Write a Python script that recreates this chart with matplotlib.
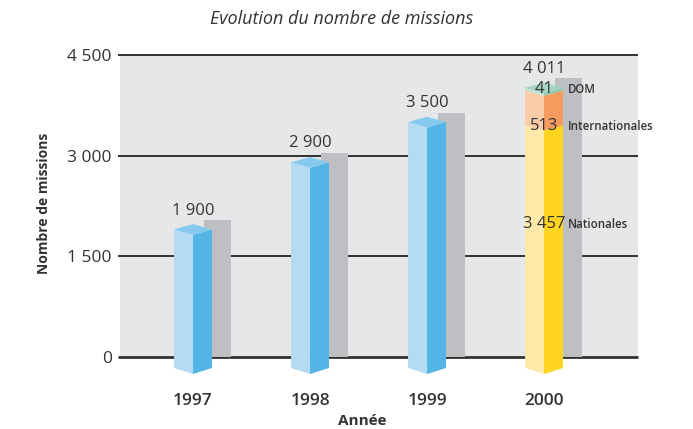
import matplotlib
matplotlib.use("Agg")
import matplotlib.pyplot as plt
from matplotlib.patches import Polygon, Rectangle

plt.rcParams['font.family'] = ['Open Sans', 'DejaVu Sans']

# ---- data ----
years = ["1997", "1998", "1999", "2000"]
totals = [1900, 2900, 3500, 4011]
total_labels = ["1 900", "2 900", "3 500", "4 011"]
seg_names_2000 = ["Nationales", "Internationales", "DOM"]
seg_values_2000 = [3457, 513, 41]
seg_labels_2000 = ["3 457", "513", "41"]
yticks = [0, 1500, 3000, 4500]
ytick_labels = ["0", "1 500", "3 000", "4 500"]

# ---- style ----
W, H = 693, 429
fig = plt.figure(figsize=(W / 100, H / 100), dpi=100)
ax = fig.add_axes([120 / W, 1 - 357 / H, (638 - 120) / W, (357 - 55) / H])
ax.set_facecolor("#e6e7e9")
ax.set_ylim(0, 4500)
ax.set_xlim(-0.624, 3.803)
for s in ax.spines.values():
    s.set_visible(False)

blue = ("#b5dbf3", "#52b5e6", "#86c9ef")
seg_cols = [("#ffe9a8", "#ffd520"), ("#fccba8", "#f69a5e"), ("#c3e4d5", "#8ecbb1")]
top_2000 = "#a5d5c2"
shadow = "#bebfc2"

hw = 0.162        # half width (x units)
d = 80            # top face half-depth (y units)
bot = -164        # bottom side level
bd = 90           # bottom front drop
sh0, sh1 = 0.094, 0.325
sh_extra = 140

# grid lines
for t in yticks:
    lw = 2.0 if t == 0 else 1.3
    ax.plot([-0.64, 3.803], [t, t], color="#222222" if t else "#333333", lw=lw,
            clip_on=False, zorder=1, solid_capstyle="butt")

def prism(c, lo, hi, left_col, right_col, lo_is_bottom, z):
    lo_side = bot if lo_is_bottom else lo
    lo_front = bot - bd if lo_is_bottom else lo - d
    left = Polygon([(c - hw, lo_side), (c, lo_front), (c, hi - d), (c - hw, hi)],
                   closed=True, fc=left_col, ec="none", clip_on=False, zorder=z)
    right = Polygon([(c, lo_front), (c + hw, lo_side), (c + hw, hi), (c, hi - d)],
                    closed=True, fc=right_col, ec="none", clip_on=False, zorder=z)
    ax.add_patch(left)
    ax.add_patch(right)

def topface(c, v, col, z):
    ax.add_patch(Polygon([(c - hw, v), (c, v + d), (c + hw, v), (c, v - d)],
                         closed=True, fc=col, ec="none", clip_on=False, zorder=z))

for i, (yr, v, lab) in enumerate(zip(years, totals, total_labels)):
    # shadow
    ax.add_patch(Rectangle((i + sh0, 0), sh1 - sh0, v + sh_extra, fc=shadow,
                           ec="none", zorder=2))
    if i < 3:
        prism(i, 0, v, blue[0], blue[1], True, 3)
        topface(i, v, blue[2], 4)
    else:
        cum = 0
        for k, val in enumerate(seg_values_2000):
            prism(i, cum, cum + val, seg_cols[k][0], seg_cols[k][1], k == 0, 3 + k * 0.1)
            cum += val
        topface(i, cum, top_2000, 4)
    ax.annotate(lab, (i, v + d), xytext=(0, 4), textcoords="offset points",
                ha="center", va="bottom", fontsize=12, color="#333333", zorder=6)

# 2000 segment labels
seg_label_y = [1980, 3440, 3993]
for k in range(3):
    ax.text(3, seg_label_y[k], seg_labels_2000[k], ha="center", va="center",
            fontsize=12, color="#333333", zorder=6)
    ax.text(3 + 0.2, seg_label_y[k], seg_names_2000[k], ha="left", va="center",
            fontsize=8.3, color="#333333", zorder=6, fontweight="semibold")

ax.set_yticks(yticks)
ax.set_yticklabels(ytick_labels, fontsize=12.5, color="#333333")
ax.tick_params(axis="y", length=0, pad=6)
ax.set_xticks(range(4))
ax.set_xticklabels(years, fontsize=12.5, color="#333333", fontweight="semibold")
ax.tick_params(axis="x", length=0, pad=26)

fig.text(362 / W, 1 - 421 / H, "Année", ha="center", va="center", fontsize=11,
         fontweight="bold", color="#333333")
fig.text(44 / W, 1 - 203 / H, "Nombre de missions", ha="center", va="center",
         rotation=90, fontsize=10, fontweight="bold", color="#333333")
fig.text(342 / W, 1 - 19 / H, "Evolution du nombre de missions", ha="center",
         va="center", fontsize=13, style="italic", color="#333333")

fig.savefig("out.png", dpi=100)
